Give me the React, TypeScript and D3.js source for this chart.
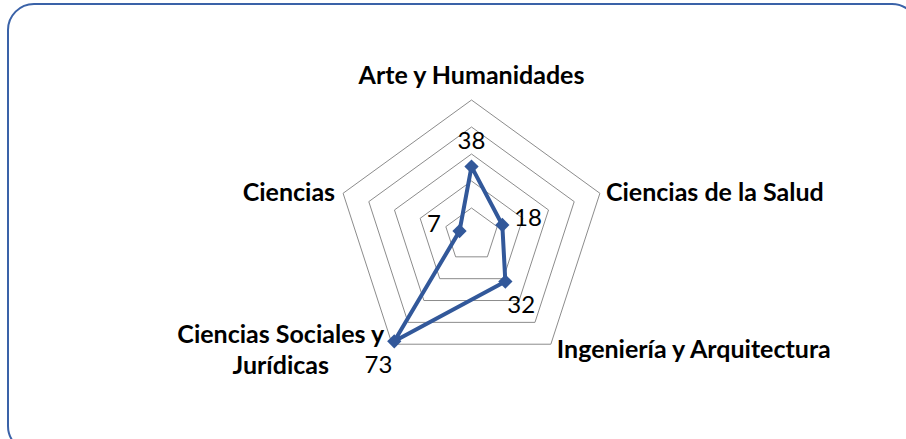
import React, { useEffect, useRef } from "react";
import * as d3 from "d3";

// radar data, clockwise from the top
const categories = [
  "Arte y Humanidades",
  "Ciencias de la Salud",
  "Ingeniería y Arquitectura",
  "Ciencias Sociales y Jurídicas",
  "Ciencias",
];
const values = [38, 18, 32, 73, 7];
const ringTicks = [15, 30, 45, 60, 75];

const width = 906,
  height = 439;

const wrapLabel = (s: string) => {
  // long names go on two lines, like the original
  if (s.length <= 26) return [s];
  const words = s.split(" ");
  const lines: string[] = [];
  let cur = "";
  words.forEach((w) => {
    const next = cur ? cur + " " + w : w;
    if (next.length > 20 && cur) {
      lines.push(cur);
      cur = w;
    } else cur = next;
  });
  if (cur) lines.push(cur);
  return lines;
};

const drawChart = (svgEl: SVGSVGElement) => {
  const svg = d3.select(svgEl);
  svg.selectAll("*").remove();

  const cx = 471.5,
    cy = 235,
    radius = 135;
  const font = "Lato, 'Open Sans', sans-serif";

  // card
  svg
    .append("rect")
    .attr("x", 8)
    .attr("y", 4)
    .attr("width", 910)
    .attr("height", 448)
    .attr("rx", 26)
    .attr("fill", "white")
    .attr("stroke", "#3a62a8")
    .attr("stroke-width", 2);

  const r = d3.scaleLinear().domain([0, d3.max(ringTicks)!]).range([0, radius]);
  const angle = d3
    .scaleLinear()
    .domain([0, categories.length])
    .range([0, 2 * Math.PI]);

  const pt = (i: number, rad: number): [number, number] => [
    Math.sin(angle(i)) * rad,
    -Math.cos(angle(i)) * rad,
  ];

  const g = svg.append("g").attr("transform", `translate(${cx},${cy})`);

  const line = d3.line().curve(d3.curveLinearClosed);

  // rings
  g.selectAll(".ring")
    .data(ringTicks)
    .enter()
    .append("path")
    .attr("class", "ring")
    .attr("d", (t) => line(categories.map((_, i) => pt(i, r(t)))))
    .attr("fill", "none")
    .attr("stroke", "#8c8c8c")
    .attr("stroke-width", 1);

  // series
  const pts = values.map((v, i) => pt(i, r(v)));
  g.append("path")
    .attr("d", line(pts))
    .attr("fill", "none")
    .attr("stroke", "#32589a")
    .attr("stroke-width", 4)
    .attr("stroke-linejoin", "round");

  g.selectAll(".marker")
    .data(pts)
    .enter()
    .append("path")
    .attr("class", "marker")
    .attr("d", d3.symbol().type(d3.symbolDiamond2).size(130)())
    .attr("transform", (d) => `translate(${d[0]},${d[1]})`)
    .attr("fill", "#32589a");

  // data labels, pushed outward along each axis
  g.selectAll(".dlabel")
    .data(values)
    .enter()
    .append("text")
    .attr("class", "dlabel")
    .attr("x", (v, i) => pt(i, r(v) + 27)[0])
    .attr("y", (v, i) => pt(i, r(v) + 27)[1])
    .attr("text-anchor", "middle")
    .attr("dominant-baseline", "central")
    .attr("font-family", font)
    .attr("font-size", 24)
    .attr("fill", "#000")
    .text((v) => v);

  // category labels
  categories.forEach((c, i) => {
    const [vx, vy] = pt(i, radius);
    const s = Math.sin(angle(i));
    const lines = wrapLabel(c);
    const t = g
      .append("text")
      .attr("font-family", font)
      .attr("font-size", 25)
      .attr("font-weight", "bold")
      .attr("fill", "#000");
    const lineGap = 31;
    let x = vx,
      y = vy;
    let anchor = "middle";
    if (Math.abs(s) < 0.1) {
      y = vy - 16;
    } else {
      anchor = s > 0 ? "start" : "end";
      x = vx + (s > 0 ? 6 : -8);
      y = vy + (vy > 0 ? 6 : 0) + 8 - ((lines.length - 1) * lineGap) / 2;
    }
    lines.forEach((l, k) => {
      t.append("tspan").attr("x", x).attr("y", y + k * lineGap).text(l);
    });
    t.attr("text-anchor", anchor);
    if (lines.length > 1) {
      // centre the lines inside the block
      const spans = t.selectAll<SVGTSpanElement, unknown>("tspan").nodes();
      const w = d3.max(spans, (n) => n.getComputedTextLength()) || 0;
      const mid = anchor === "end" ? x - w / 2 : x + w / 2;
      t.attr("text-anchor", "middle");
      t.selectAll("tspan").attr("x", mid);
    }
  });
};

const App = () => {
  const svgRef = useRef<SVGSVGElement>(null);

  useEffect(() => {
    if (svgRef.current) drawChart(svgRef.current);
  }, []);

  return (
    <svg
      ref={svgRef}
      width={width}
      height={height}
      style={{ position: "absolute", left: 0, top: 0 }}
    />
  );
};

export default App;
